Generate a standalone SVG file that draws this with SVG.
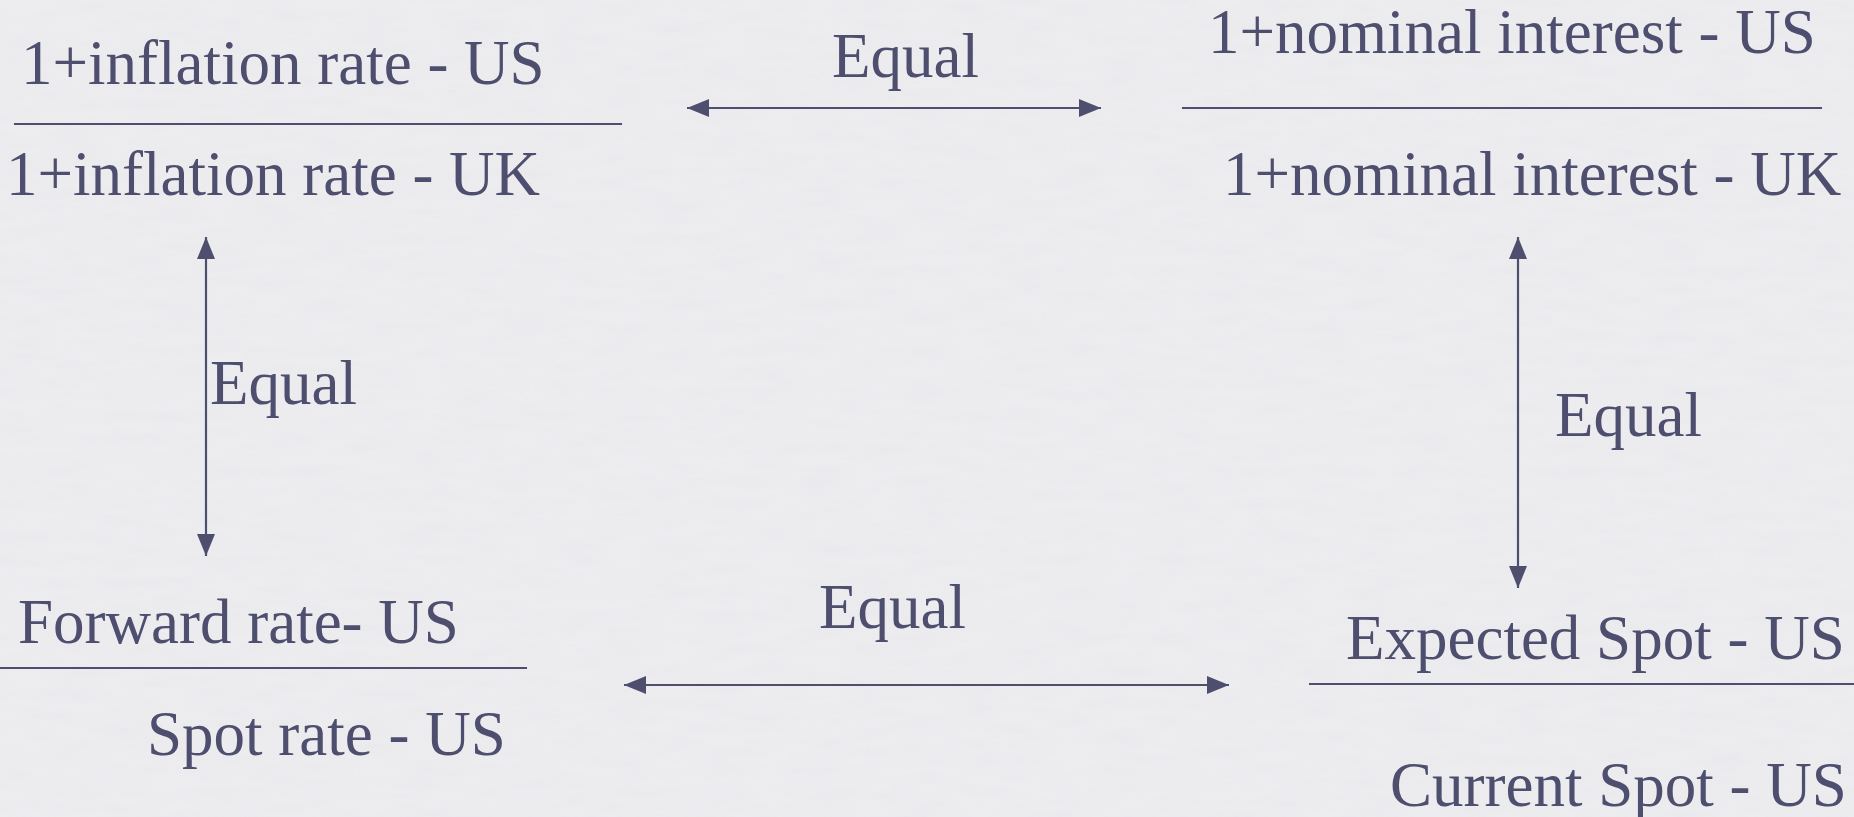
<svg xmlns="http://www.w3.org/2000/svg" width="1854" height="817" viewBox="0 0 1854 817">
<style>
  .t { font-family: "Liberation Serif", "Times New Roman", serif; font-size: 63px; fill: #4E4E6F; }
  .rule { stroke: #4E4E6F; stroke-width: 2.2; fill: none; }
  .conn { stroke: #4E4E6F; stroke-width: 2.2; fill: none; marker-start: url(#ah); marker-end: url(#ah); }
</style>
<defs>
  <marker id="ah" markerUnits="userSpaceOnUse" markerWidth="24" markerHeight="20" refX="22" refY="10" orient="auto-start-reverse">
    <path d="M0,1 L22,10 L0,19 Z" fill="#4E4E6F"/>
  </marker>
  <filter id="paper" x="0" y="0" width="100%" height="100%">
    <feTurbulence type="fractalNoise" baseFrequency="0.02 0.09" numOctaves="3" seed="4" result="n"/>
    <feColorMatrix in="n" type="matrix" values="0 0 0 0 0.55  0 0 0 0 0.55  0 0 0 0 0.6  0 0 0 0.18 0"/>
  </filter>
</defs>
<rect x="0" y="0" width="1854" height="817" fill="#EEEEF1"/>
<rect x="0" y="0" width="1854" height="817" filter="url(#paper)" opacity="0.6"/>

<g id="inflation">
  <text class="t" x="21" y="84">1+inflation rate - US</text>
  <line class="rule" x1="14" y1="124" x2="622" y2="124"/>
  <text class="t" x="6" y="195">1+inflation rate - UK</text>
</g>

<g id="nominal-interest">
  <text class="t" x="1208" y="53">1+nominal interest - US</text>
  <line class="rule" x1="1182" y1="108" x2="1822" y2="108"/>
  <text class="t" x="1223" y="195">1+nominal interest - UK</text>
</g>

<g id="forward-spot">
  <text class="t" x="18" y="643">Forward rate- US</text>
  <line class="rule" x1="0" y1="668" x2="527" y2="668"/>
  <text class="t" x="147" y="755">Spot rate - US</text>
</g>

<g id="expected-current">
  <text class="t" x="1346" y="659">Expected Spot - US</text>
  <line class="rule" x1="1309" y1="684" x2="1854" y2="684"/>
  <text class="t" x="1390" y="806">Current Spot - US</text>
</g>

<g id="connectors">
  <line class="conn" x1="687" y1="108" x2="1101" y2="108"/>
  <text class="t" x="832" y="77">Equal</text>
  <line class="conn" x1="206" y1="237" x2="206" y2="556"/>
  <text class="t" x="210" y="404">Equal</text>
  <line class="conn" x1="1518" y1="237" x2="1518" y2="588"/>
  <text class="t" x="1555" y="436">Equal</text>
  <line class="conn" x1="624" y1="685" x2="1229" y2="685"/>
  <text class="t" x="819" y="628">Equal</text>
</g>
</svg>
